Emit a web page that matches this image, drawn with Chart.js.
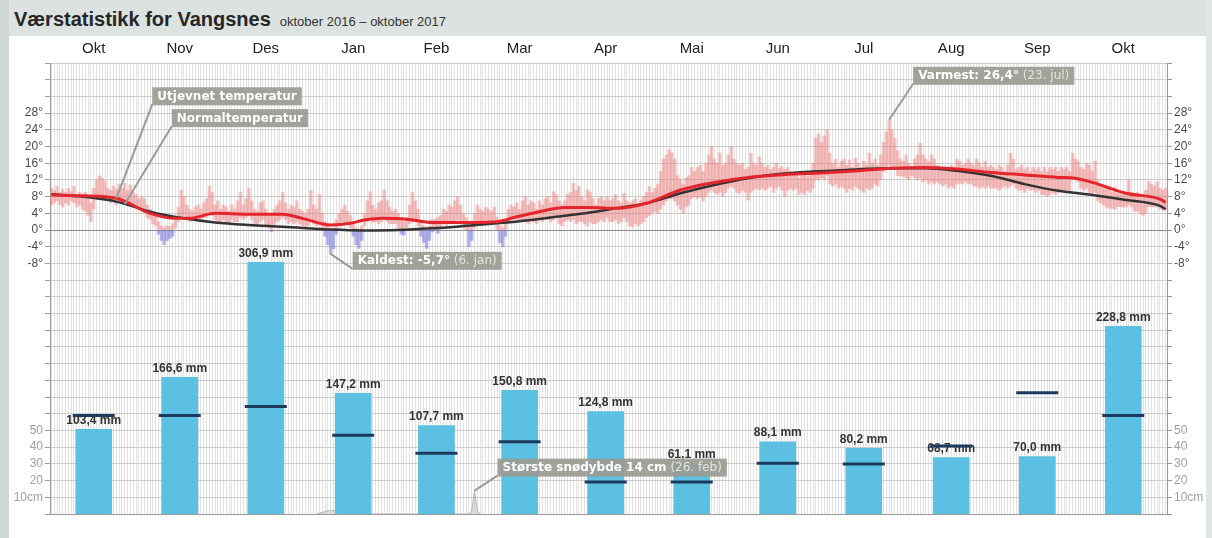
<!DOCTYPE html>
<html>
<head>
<meta charset="utf-8">
<script src="https://cdn.jsdelivr.net/npm/chart.js@4/dist/chart.umd.min.js"></script>
<style>
  html, body { margin:0; padding:0; width:1212px; height:538px; overflow:hidden; background:#ffffff; }
  #titlebar { position:absolute; left:0; top:0; width:1212px; height:36px; background:#dbe2df; }
  #leftstrip { position:absolute; left:0; top:0; width:9px; height:538px; background:#cfd8d4; }
  #rightstrip { position:absolute; left:1206px; top:0; width:6px; height:538px; background:#e2e7e5; }
  #title { position:absolute; left:14px; top:7px; line-height:24px; font-family:"Liberation Sans", Arial, sans-serif; color:#262626; white-space:nowrap; }
  #title b { font-size:20px; font-weight:bold; }
  #title span { font-size:13px; margin-left:9px; color:#333; }
  #c { position:absolute; left:0; top:0; }
</style>
</head>
<body>
<div id="titlebar"></div>
<div id="leftstrip"></div>
<div id="rightstrip"></div>
<div id="title"><b>Værstatistikk for Vangsnes</b><span>oktober 2016 – oktober 2017</span></div>
<canvas id="c" width="1212" height="538"></canvas>
<script>
// ---------------- DATA ----------------
const monthLabels = ['Okt','Nov','Des','Jan','Feb','Mar','Apr','Mai','Jun','Jul','Aug','Sep','Okt'];
const monthStartDays = [0,31,61,92,123,151,182,212,243,273,304,335,365];
const totalDays = 396;

const precipMm = [103.4,166.6,306.9,147.2,107.7,150.8,124.8,61.1,88.1,80.2,68.7,70.0,228.8];
const normalPrecipMm = [120,120,131,96,74,88,39,39,62,61,83,148,120];

const tempTickValues = [-8,-4,0,4,8,12,16,20,24,28];
const tempTickLabels = ['-8°','-4°','0°','4°','8°','12°','16°','20°','24°','28°'];
const snowTickValues = [10,20,30,40,50];
const snowTickLabels = ['10cm','20','30','40','50'];

// daily high / low temperature (°C), 1 Oct 2016 .. 31 Oct 2017
const tempHigh = [
 // Okt
 10,9.5,10.5,9,9.8,9,10,9.2,10.5,8.5,9,8,9,7.5,6.5,10,12,13,12.5,11.8,10,9.5,10.5,9.8,11,10,11.2,9.5,10.8,9,8.5,
 // Nov
 7.5,8,7.5,6,5,4.5,3.5,2,1,0.5,1,0.8,1.5,3,5.5,9.5,8,6,5,4.5,5.5,6,5,6.5,7.5,10.5,9,6,7,5,
 // Des
 6,5.5,4.5,6,5,7,9,6,7.5,10,7,5,4.5,6.5,7,5,4,3.5,5,6,7,9,6.5,5,6,5.5,7,5,4.5,4,5,
 // Jan
 9.5,6,5,8.5,4,2,1,0,0.5,2.5,4,5,6,4.5,3.5,1.5,0.5,0,1,4,7,9.2,6,5,6.5,7,9.6,7,5.5,4.5,5,
 // Feb
 4,2.5,2,3,6,9,7,5,2,1,0,1,2.5,2.5,3,3.5,5,4.5,6,5.5,7,8,6,4,3,1,2,4,
 // Mar
 6,5,4.5,5.5,5,4.5,5.5,3,1,0.5,2,5,6,5.5,6.5,5,7,8,6,7,6.5,5,7,6,7.5,8,6.5,9.2,8.5,7,6,
 // Apr
 7,8.5,9,11.2,9.5,10.5,8,7,9.6,9,7.5,6,7.5,8,7,8,7,7.5,8.5,7,6.5,8.8,7,6.5,7,7.5,6,7.2,8,9,
 // Mai
 10.4,9,10,11,14,17,18,19.2,18.5,17,13,12,11,12.5,13,15,14,15,15.5,14,16,18,20,17,16,18.5,15.5,16,18,20,17,
 // Jun
 16,15.5,16,14.5,15,18.4,16,15.5,17.5,16,15,15.5,14.5,15,16,14.8,15.2,14.5,15,14,13.5,14,12.5,13,13.5,12.8,13.5,16,22,23,
 // Jul
 21,22.5,24,18.4,16,17,15,16.5,17,15.5,16.8,15,17.2,16,15,16.5,15.5,18.4,16,17,15.5,18,21,23.5,26.4,24,22,19,17,16.5,18,
 // Aug
 16,15,17,18,20.8,18,17,16.5,18,17,15.5,15,14.5,15,14.5,15.5,14,17,16.5,15.5,16,17,16,15.5,17,16,15,16.5,15,15.5,15,
 // Sep
 14.5,15.5,15,14,15.5,18.4,17,14.5,15,15.5,14.5,15,14,15,14.5,15,14,15,14,15,14.5,15,14,15,14.5,15,14,18.4,17,16.5,
 // Okt
 15,14.5,16,15.5,14,16.5,12,11,10.4,10,10.5,9,10.2,8.8,8.5,8.8,9,12,9,8.5,9,8,8.5,9.5,11.6,11,10.5,11.5,10,9.5,10
];
const tempLow = [
 // Okt
 6,6.5,7,6,5.5,6.5,6,7,6.5,5.5,6,5,4.5,3.5,2,5,8,8.5,8,7.5,7,6.5,7,6,7,6.5,7,6,6.5,6,5.5,
 // Nov
 5,4.5,4,3,2.5,1.5,1,-1,-2.5,-3.5,-2.5,-2,-1.5,0.5,2,3,3.5,2.5,2,2.5,3,2,2.5,3,3,4,3.5,2.5,2,2,
 // Des
 2.5,2,1.5,2.5,2,2,3,2.5,3,3.5,2.5,1.5,1,2,2.5,1,0.5,-0.4,1,2,2.5,3,2.5,1.5,2,1.5,2,1.5,1,0.5,1,
 // Jan
 2,1.5,1,1.5,0.5,-1.5,-3.5,-5.7,-4.5,-1,1.5,2,1.5,1.5,0.5,-1.5,-3.5,-4.4,-2.5,1,2,2.5,1.8,2,1.5,2,2.5,2,1.5,1.5,1.5,
 // Feb
 0,-1,-1.2,0.5,1.5,2,2.5,1,-1.5,-3,-4.4,-2.5,-0.5,0,-0.8,0.5,1.5,1,2,1.5,2,2.5,1.5,0.5,0,-4,-2.5,0.5,
 // Mar
 1.5,2,1.5,2.5,2,2,2.5,0,-3,-4,-1.5,1.5,2.5,3,2.5,2,2.5,2,1.5,2.5,2,1.5,2.5,2,3,2.5,2,2.5,3,1.5,1,
 // Apr
 2,2.5,2,2.5,1.5,2,2,1.5,1,2,1.5,1.5,2,2.5,2,3,2,2,2.5,1.6,2,3,2,1,0.8,1.5,1,1.5,2,3,
 // Mai
 3.5,4,4.5,4,5,6,7,7.5,7.5,7,6,5,4,5.5,6,7.5,8,7.5,8,7,8,9,9.5,9,8.5,9,8,9,10,10.5,10,
 // Jun
 9,8.8,9.5,9,7.2,9,9.5,10,9.6,10,9.5,10,10.5,9,10,10.5,9.5,8,9.5,10,9.5,10,8.5,9,8.5,9.5,9,10,12,12,
 // Jul
 12.5,12,13,11,10.5,11,10,10.5,10,9,10,9.5,10.5,10,9.5,9,10,9.6,10,11,10.5,12,14,15,15.5,15,14.5,13,13,12.8,12.5,
 // Aug
 12,13,12.5,12,12.5,11.5,12,11,11.5,11,11.5,11,10.5,11,10,10.5,10,11,11.2,11,11.5,11,11.2,10.5,10.5,10,10.5,10,10.5,10,10,
 // Sep
 10,9.5,10,10.5,10,10.5,11,10,9.5,9.6,9,10,9.5,9.6,9,9.5,8.5,8.4,8,8.5,9,8.5,9,9.5,9,9.5,9,12,12,11.5,
 // Okt
 10,9.5,10,9,8.5,9,7,6.5,6,5.5,5.2,5.2,5,5.6,5.6,5.5,5.5,6,5.5,4.5,4.5,4,3.5,4,5.6,5.6,5.5,5.6,5,4.8,4.8
];

// smoothed temperature (Utjevnet temperatur)
const smoothDays = [0,11,23,35,44,49,58,70,82,89,99,106,111,117,126,135,147,158,165,173,182,191,200,211,223,235,247,258,270,282,298,310,321,333,345,357,363,369,381,393,395];
const smoothTemp = [8.4,8.2,7.6,4.0,2.8,2.8,4.0,3.8,3.8,2.8,1.2,1.6,2.4,2.8,2.6,1.8,1.8,2.0,3.2,4.4,5.4,5.4,5.2,6.4,9.6,11.4,12.6,13.2,13.6,14.0,14.8,15.0,14.6,13.8,13.2,12.6,12.4,11.4,8.8,7.4,6.6];

// normal temperature (Normaltemperatur)
const normalDays = [0,11,23,35,47,58,70,82,99,111,123,135,147,158,170,182,194,200,211,223,235,247,258,270,282,298,310,321,333,345,357,369,381,393,395];
const normalTemp = [8.6,8.0,6.8,4.4,2.8,1.8,1.2,0.8,0.1,-0.1,0.0,0.4,1.0,1.6,2.4,3.4,4.5,5.2,6.4,8.8,10.8,12.4,13.4,14.0,14.4,14.8,14.8,14.2,13.0,11.0,9.4,8.4,7.2,5.8,5.0];

// snow depth (cm)
const snowDays = [94,96,98,100,102,104,106,108,110,112,148,149,150,151,152];
const snowCm   = [0,1,2,2,2,1,1,2,1,0,0,2,14,2,0];

// extremes
const warmest = { day:297, value:26.4, label:'Varmest: 26,4°', date:' (23. jul)' };
const coldest = { day:99, value:-5.7, label:'Kaldest: -5,7°', date:' (6. jan)' };
const maxSnow = { day:150, value:14, label:'Største snødybde 14 cm', date:' (26. feb)' };
const smoothMarker = { day:23, value:7.6, label:'Utjevnet temperatur' };
const normalMarker = { day:26, value:6.2, label:'Normaltemperatur' };

// ---------------- DERIVED ----------------
const monthCenters = monthStartDays.map((s,i) => {
  const next = i < monthStartDays.length-1 ? monthStartDays[i+1] : totalDays;
  return (s + next - 1) / 2;
});
const posBars = [], negBars = [];
for (let i = 0; i < totalDays; i++) {
  const h = tempHigh[i], l = tempLow[i];
  if (h > 0) posBars.push({ x:i, y:[Math.max(l,0), h] });
  if (l < 0) negBars.push({ x:i, y:[l, Math.min(h,0)] });
}
const fmtMm = v => v.toFixed(1).replace('.', ',') + ' mm';

const TMIN = -68, TMAX = 40, TSTEP = 4;
const SNOW_PER_STEP = 10;
const snowMax = (TMAX - TMIN) / TSTEP * SNOW_PER_STEP;

function yTickLabel(v) {
  const ti = tempTickValues.indexOf(v);
  if (ti >= 0) return tempTickLabels[ti];
  const cm = (v - TMIN) / TSTEP * SNOW_PER_STEP;
  const si = snowTickValues.indexOf(cm);
  if (si >= 0) return snowTickLabels[si];
  return '';
}
function yTickColor(ctx) {
  const v = ctx.tick ? ctx.tick.value : 0;
  return v < -10 ? '#a0a0a0' : '#4a4a4a';
}
function yTicks(scale) {
  const t = [];
  for (let v = TMIN; v <= TMAX; v += TSTEP) t.push({ value:v });
  scale.ticks = t;
}

// ---------------- PLUGINS ----------------
const PRECIP_INDEX = 3;
const precipLabels = {
  id:'precipLabels',
  afterDatasetDraw(chart, args) {
    if (args.index !== PRECIP_INDEX) return;
    const ctx = chart.ctx;
    ctx.save();
    ctx.font = 'bold 12px "Liberation Sans", Arial, sans-serif';
    ctx.fillStyle = '#333333';
    ctx.textAlign = 'center';
    ctx.textBaseline = 'bottom';
    args.meta.data.forEach((bar, i) => {
      ctx.fillText(fmtMm(precipMm[i]), bar.x, bar.y - 3);
    });
    ctx.restore();
  }
};

function callout(ctx, ax, ay, bx, by, main, extra) {
  const fontB = 'bold 12px "DejaVu Sans", Verdana, sans-serif';
  const fontN = '12px "DejaVu Sans", Verdana, sans-serif';
  ctx.font = fontB; const w1 = ctx.measureText(main).width;
  let w2 = 0;
  if (extra) { ctx.font = fontN; w2 = ctx.measureText(extra).width; }
  const pad = 5, h = 18, w = w1 + w2 + pad*2;
  ctx.strokeStyle = '#9a9a9a';
  ctx.lineWidth = 2;
  ctx.beginPath(); ctx.moveTo(ax, ay); ctx.lineTo(bx, by + h - 1); ctx.stroke();
  ctx.fillStyle = 'rgba(155,155,146,0.92)';
  ctx.fillRect(bx, by, w, h);
  ctx.textBaseline = 'middle';
  ctx.textAlign = 'left';
  ctx.font = fontB; ctx.fillStyle = '#ffffff';
  ctx.fillText(main, bx + pad, by + h/2 + 0.5);
  if (extra) { ctx.font = fontN; ctx.fillStyle = '#e4e4de'; ctx.fillText(extra, bx + pad + w1, by + h/2 + 0.5); }
}

const annotations = {
  id:'annotations',
  afterDraw(chart) {
    const ctx = chart.ctx, xs = chart.scales.x, yt = chart.scales.y, ysn = chart.scales.ySnow;
    ctx.save();
    let ax, ay;
    ax = xs.getPixelForValue(smoothMarker.day); ay = yt.getPixelForValue(smoothMarker.value);
    callout(ctx, ax, ay, ax + 36, ay - 111, smoothMarker.label, '');
    ax = xs.getPixelForValue(normalMarker.day); ay = yt.getPixelForValue(normalMarker.value);
    callout(ctx, ax, ay, ax + 47, ay - 95, normalMarker.label, '');
    ax = xs.getPixelForValue(warmest.day); ay = yt.getPixelForValue(warmest.value);
    callout(ctx, ax, ay, ax + 24, ay - 53, warmest.label, warmest.date);
    ax = xs.getPixelForValue(coldest.day); ay = yt.getPixelForValue(coldest.value);
    callout(ctx, ax, ay, ax + 22, ay - 2, coldest.label, coldest.date);
    ax = xs.getPixelForValue(maxSnow.day); ay = ysn.getPixelForValue(maxSnow.value);
    callout(ctx, ax, ay, ax + 23, ay - 32, maxSnow.label, maxSnow.date);
    ctx.restore();
  }
};

// ---------------- CHART ----------------
const XMIN = -0.5, XMAX = totalDays - 0.5;

new Chart(document.getElementById('c'), {
  type:'bar',
  data:{
    datasets:[
      { type:'line', label:'snow', data: snowDays.map((d,i)=>({x:d, y:snowCm[i]})), yAxisID:'ySnow',
        fill:'origin', backgroundColor:'rgba(170,170,170,0.35)', borderColor:'rgba(150,150,150,0.6)', borderWidth:1,
        pointRadius:0, tension:0, order:10 },
      { type:'bar', label:'tpos', data: posBars, yAxisID:'y', barThickness:2.8, grouped:false,
        backgroundColor:'rgba(238,110,110,0.4)', borderWidth:0, order:7 },
      { type:'bar', label:'tneg', data: negBars, yAxisID:'y', barThickness:2.8, grouped:false,
        backgroundColor:'rgba(110,110,220,0.5)', borderWidth:0, order:7 },
      { type:'bar', label:'precip', data: precipMm.map((v,i)=>({x:monthCenters[i], y:v})), yAxisID:'yPrecip',
        barThickness:36, grouped:false, backgroundColor:'#5cc0e2', borderWidth:0, order:9 },
      { type:'line', label:'normalPrecip', data: normalPrecipMm.map((v,i)=>({x:monthCenters[i], y:v})), yAxisID:'yPrecip',
        showLine:false, pointStyle:'line', pointRadius:21, pointHoverRadius:21, pointBorderWidth:3,
        pointBorderColor:'#1c3a5e', pointBackgroundColor:'#1c3a5e', order:8 },
      { type:'line', label:'normalTemp', data: normalDays.map((d,i)=>({x:d, y:normalTemp[i]})), yAxisID:'y',
        borderColor:'#333333', borderWidth:2.5, pointRadius:0, cubicInterpolationMode:'monotone', order:6 },
      { type:'line', label:'smoothTemp', data: smoothDays.map((d,i)=>({x:d, y:smoothTemp[i]})), yAxisID:'y',
        borderColor:'#e3262b', borderWidth:3, pointRadius:0, cubicInterpolationMode:'monotone', order:5 }
    ]
  },
  options:{
    responsive:false, animation:false, devicePixelRatio:1,
    layout:{ padding:0 },
    plugins:{ legend:{display:false}, tooltip:{enabled:false} },
    events:[],
    scales:{
      x:{ type:'linear', position:'bottom', min:XMIN, max:XMAX, offset:false,
          grid:{ color:'#e2e2e2', lineWidth:1, drawTicks:false },
          border:{ color:'#999999', width:1 },
          ticks:{ display:false },
          afterBuildTicks(s){ const t=[]; for(let d=0; d<=totalDays; d++) t.push({value:d-0.5}); s.ticks=t; },
          afterFit(s){ s.height = 23; } },
      xTop:{ type:'linear', position:'top', min:XMIN, max:XMAX, offset:false,
          grid:{ display:false, drawTicks:false },
          border:{ display:false },
          ticks:{ autoSkip:false, maxRotation:0, padding:5, color:'#222222',
                  font:{ family:'"Liberation Sans", Arial, sans-serif', size:15 },
                  callback:(v,i)=> monthLabels[i] },
          afterBuildTicks(s){ s.ticks = monthCenters.map(v=>({value:v})); },
          afterFit(s){ s.height = 63; } },
      y:{ type:'linear', position:'left', min:TMIN, max:TMAX,
          grid:{ color: ctx => (ctx.tick && ctx.tick.value === 0) ? '#8c8c8c' : '#cdcdcd', tickLength:5, tickColor:'#999999' },
          border:{ color:'#999999' },
          ticks:{ autoSkip:false, padding:2, color:yTickColor,
                  font:{ family:'"Liberation Sans", Arial, sans-serif', size:12 },
                  callback: v => yTickLabel(v) },
          afterBuildTicks: yTicks,
          afterFit(s){ s.width = 50; } },
      yRight:{ type:'linear', position:'right', min:TMIN, max:TMAX,
          grid:{ drawOnChartArea:false, tickLength:5, tickColor:'#999999' },
          border:{ color:'#999999' },
          ticks:{ autoSkip:false, padding:2, color:yTickColor,
                  font:{ family:'"Liberation Sans", Arial, sans-serif', size:12 },
                  callback: v => yTickLabel(v) },
          afterBuildTicks: yTicks,
          afterFit(s){ s.width = 45; } },
      yPrecip:{ type:'linear', display:false, min:0, max:550 },
      ySnow:{ type:'linear', display:false, min:0, max:snowMax }
    }
  },
  plugins:[precipLabels, annotations]
});
</script>
</body>
</html>
